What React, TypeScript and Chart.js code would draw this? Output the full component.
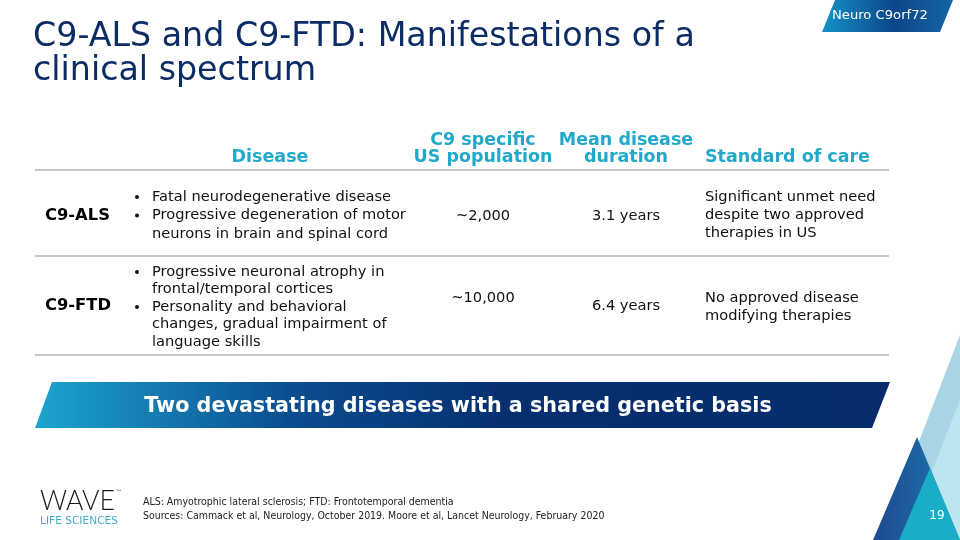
import React, { useEffect, useRef } from "react";
import { Chart, registerables } from "chart.js";
Chart.register(...registerables);

const titleLines = ["C9-ALS and C9-FTD: Manifestations of a", "clinical spectrum"];
const tagText = "Neuro C9orf72";
const headers = [["Disease"], ["C9 specific", "US population"], ["Mean disease", "duration"], ["Standard of care"]];
const diseases = ["C9-ALS", "C9-FTD"];
const descriptions = [
  [["Fatal neurodegenerative disease"], ["Progressive degeneration of motor", "neurons in brain and spinal cord"]],
  [["Progressive neuronal atrophy in", "frontal/temporal cortices"], ["Personality and behavioral", "changes, gradual impairment of", "language skills"]],
];
const populations = ["~2,000", "~10,000"];
const durations = ["3.1 years", "6.4 years"];
const careLines = [["Significant unmet need", "despite two approved", "therapies in US"], ["No approved disease", "modifying therapies"]];
const bannerText = "Two devastating diseases with a shared genetic basis";
const footnotes = [
  "ALS: Amyotrophic lateral sclerosis; FTD: Frontotemporal dementia",
  "Sources: Cammack et al, Neurology, October 2019. Moore et al, Lancet Neurology, February 2020",
];
const pageNumber = "19";

function fit(ctx: CanvasRenderingContext2D, text: string, font: string, target: number) {
  ctx.font = `${font.replace("SIZE", "100px")}`;
  const w = ctx.measureText(text).width;
  return (100 * target) / w;
}

const slidePlugin = {
  id: "slide",
  afterDraw(chart: any) {
    const ctx: CanvasRenderingContext2D = chart.ctx;
    const xs = chart.scales.x;
    const ys = chart.scales.y;
    const X = (v: number) => xs.getPixelForValue(v);
    const Y = (v: number) => ys.getPixelForValue(v);
    ctx.save();

    const poly = (pts: number[][], fill: any) => {
      ctx.beginPath();
      pts.forEach((p, i) => (i ? ctx.lineTo(X(p[0]), Y(p[1])) : ctx.moveTo(X(p[0]), Y(p[1]))));
      ctx.closePath();
      ctx.fillStyle = fill;
      ctx.fill();
    };

    // decorative triangles
    poly([[960, 335], [881, 540], [960, 540]], "#a9d4e4");
    poly([[960, 400], [905, 540], [960, 540]], "#bce6ef");
    const gC = ctx.createLinearGradient(X(873), 0, X(960), 0);
    gC.addColorStop(0, "#1f4a8e");
    gC.addColorStop(1, "#1a78b3");
    poly([[917, 437], [873, 540], [960, 540]], gC);
    poly([[930, 468], [899, 540], [960, 540]], "#1aadc8");

    // top tag
    const gT = ctx.createLinearGradient(X(822), 0, X(953), 0);
    gT.addColorStop(0, "#1592c7");
    gT.addColorStop(0.55, "#0b4688");
    gT.addColorStop(1, "#1466a3");
    poly([[835, 0], [953, 0], [940, 32], [822, 32]], gT);
    ctx.fillStyle = "#ffffff";
    ctx.textBaseline = "middle";
    ctx.textAlign = "left";
    const tagFont = "normal SIZE 'DejaVu Sans'";
    const ts = fit(ctx, tagText, tagFont, 96);
    ctx.font = tagFont.replace("SIZE", ts + "px");
    ctx.fillText(tagText, X(832), Y(16));

    // title
    ctx.fillStyle = "#0c2c66";
    ctx.textBaseline = "alphabetic";
    const tFont = "normal SIZE 'DejaVu Sans'";
    const tsz = fit(ctx, titleLines[0], tFont, 662);
    ctx.font = tFont.replace("SIZE", tsz + "px");
    ctx.fillText(titleLines[0], X(33), Y(46));
    ctx.fillText(titleLines[1], X(33), Y(80));

    // table headers
    ctx.fillStyle = "#22a8c8";
    const hFont = "bold SIZE 'DejaVu Sans'";
    const hs = fit(ctx, "US population", hFont, 139);
    ctx.font = hFont.replace("SIZE", hs + "px");
    ctx.textBaseline = "middle";
    const colX = [270, 483, 626, 705];
    const colAlign: CanvasTextAlign[] = ["center", "center", "center", "left"];
    headers.forEach((lines, i) => {
      ctx.textAlign = colAlign[i];
      const n = lines.length;
      lines.forEach((l, j) => ctx.fillText(l, X(colX[i]), Y(157 - (n - 1 - j) * 17)));
    });

    // separators
    ctx.strokeStyle = "#c8c8c8";
    ctx.lineWidth = 2;
    [170, 256, 355].forEach((y) => {
      ctx.beginPath();
      ctx.moveTo(X(35), Y(y));
      ctx.lineTo(X(889), Y(y));
      ctx.stroke();
    });

    // rows
    const bFont = "normal SIZE 'DejaVu Sans'";
    const bs = fit(ctx, "Progressive degeneration of motor", bFont, 254);
    const rFont = "bold SIZE 'DejaVu Sans'";
    const rs = fit(ctx, "C9-ALS", rFont, 65);
    const rowLabelY = [216, 306];
    const descStart = [197, 272];
    const lineH = [18.5, 17.5];
    const popY = [216, 298];
    const durY = [216, 306];
    const careStart = [197, 298];
    diseases.forEach((d, r) => {
      ctx.fillStyle = "#000000";
      ctx.textAlign = "left";
      ctx.font = rFont.replace("SIZE", rs + "px");
      ctx.fillText(d, X(45), Y(rowLabelY[r]));
      ctx.font = bFont.replace("SIZE", bs + "px");
      ctx.fillStyle = "#111111";
      let k = 0;
      descriptions[r].forEach((bullet) => {
        bullet.forEach((line, j) => {
          const y = Y(descStart[r] + k * lineH[r]);
          if (j === 0) {
            ctx.beginPath();
            ctx.arc(X(137), y, 2, 0, Math.PI * 2);
            ctx.fill();
          }
          ctx.fillText(line, X(152), y);
          k++;
        });
      });
      ctx.textAlign = "center";
      ctx.fillText(populations[r], X(483), Y(popY[r]));
      ctx.fillText(durations[r], X(626), Y(durY[r]));
      ctx.textAlign = "left";
      careLines[r].forEach((l, j) => ctx.fillText(l, X(705), Y(careStart[r] + j * 18)));
    });

    // banner
    const gB = ctx.createLinearGradient(X(35), 0, X(890), 0);
    gB.addColorStop(0, "#1ca4cf");
    gB.addColorStop(0.3, "#0b4d8f");
    gB.addColorStop(0.55, "#062f70");
    gB.addColorStop(1, "#062c6a");
    poly([[52, 382], [890, 382], [872, 428], [35, 428]], gB);
    ctx.fillStyle = "#ffffff";
    ctx.textAlign = "center";
    const banFont = "bold SIZE 'DejaVu Sans'";
    const bns = fit(ctx, bannerText, banFont, 628);
    ctx.font = banFont.replace("SIZE", bns + "px");
    ctx.fillText(bannerText, X(458), Y(407));

    // logo
    ctx.textAlign = "left";
    ctx.fillStyle = "#1a1a1a";
    const wFont = "300 SIZE Lato";
    const ws = fit(ctx, "WAVE", wFont, 75);
    ctx.font = wFont.replace("SIZE", ws + "px");
    ctx.textBaseline = "alphabetic";
    ctx.fillText("WAVE", X(40), Y(510));
    ctx.font = "6px 'DejaVu Sans'";
    ctx.fillText("™", X(116), Y(494));
    ctx.fillStyle = "#3fb0c8";
    const lFont = "normal SIZE 'DejaVu Sans'";
    const ls = fit(ctx, "LIFE SCIENCES", lFont, 78);
    ctx.font = lFont.replace("SIZE", ls + "px");
    ctx.fillText("LIFE SCIENCES", X(40), Y(524));

    // footnotes
    ctx.fillStyle = "#222222";
    ctx.textBaseline = "middle";
    const fFont = "normal SIZE 'DejaVu Sans Condensed'";
    const fs = fit(ctx, footnotes[1], fFont, 462);
    ctx.font = fFont.replace("SIZE", fs + "px");
    ctx.fillText(footnotes[0], X(143), Y(502));
    ctx.fillText(footnotes[1], X(143), Y(516));

    // page number
    ctx.fillStyle = "#ffffff";
    ctx.textAlign = "center";
    ctx.font = "12px 'DejaVu Sans'";
    ctx.fillText(pageNumber, X(937), Y(516));

    ctx.restore();
  },
};

export default function App() {
  const ref = useRef<HTMLCanvasElement | null>(null);
  useEffect(() => {
    if (!ref.current) return;
    const chart = new Chart(ref.current, {
      type: "scatter",
      data: { datasets: [] },
      options: {
        animation: false,
        responsive: false,
        maintainAspectRatio: false,
        layout: { padding: 0 },
        plugins: { legend: { display: false }, tooltip: { enabled: false } },
        scales: {
          x: { type: "linear", min: 0, max: 960, display: false },
          y: { type: "linear", min: 0, max: 540, reverse: true, display: false },
        },
      },
      plugins: [slidePlugin],
    });
    return () => chart.destroy();
  }, []);
  return (
    <div style={{ position: "absolute", left: 0, top: 0, width: 960, height: 540, background: "#fff" }}>
      <canvas ref={ref} width={960} height={540} style={{ display: "block", width: 960, height: 540 }} />
    </div>
  );
}
